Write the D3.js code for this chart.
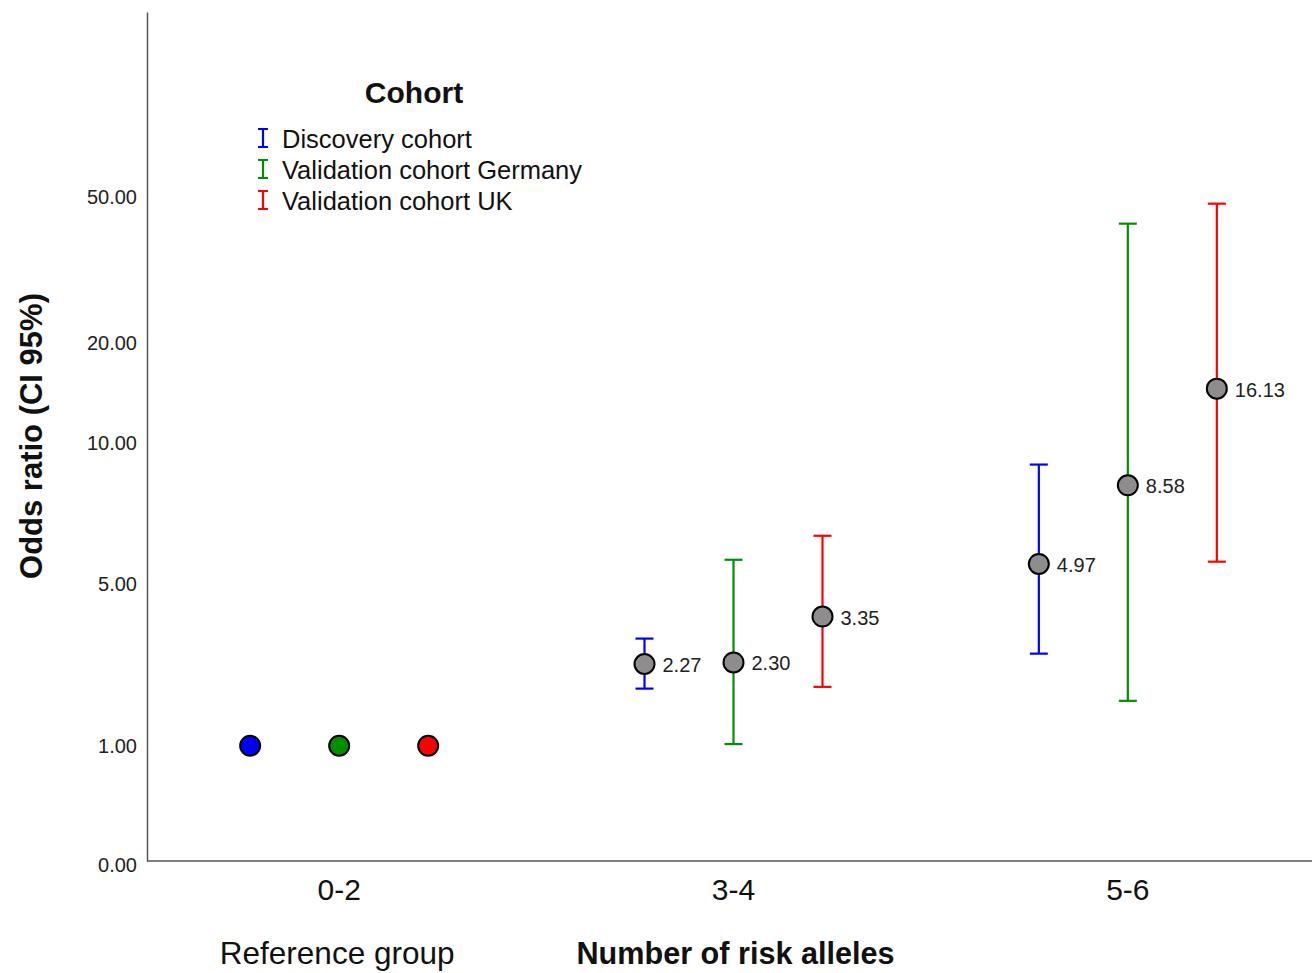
<!DOCTYPE html>
<html>
<head>
<meta charset="utf-8">
<script src="https://cdn.jsdelivr.net/npm/d3@7/dist/d3.min.js"></script>
<style>
  body { margin: 0; background: #fff; }
  text { font-family: "Liberation Sans", Arial, sans-serif; }
</style>
</head>
<body>
<div id="viz"></div>
<script>
// risk allele groups and cohorts
var groups = ["0-2", "3-4", "5-6"];
var cohorts = ["Discovery cohort", "Validation cohort Germany", "Validation cohort UK"];
var cohortColors = ["#0000ff", "#008f00", "#ff0000"];

// odds ratios per cohort (one value per group)
var orDiscovery = [1.00, 2.27, 4.97];
var orGermany   = [1.00, 2.30, 8.58];
var orUK        = [1.00, 3.35, 16.13];

// 95% CI bounds (reference group has none)
var lowDiscovery  = [null, 1.82, 2.48];
var highDiscovery = [null, 2.81, 9.85];
var lowGermany    = [null, 1.02, 1.62];
var highGermany   = [null, 5.12, 45.2];
var lowUK         = [null, 1.85, 5.05];
var highUK        = [null, 6.07, 51.1];

// y tick labels and where they sit on the axis (as printed in the source figure)
var yTickLabels = ["0.00", "1.00", "5.00", "10.00", "20.00", "50.00"];
var yTickPos    = [0, 1, 4.3, 11.4, 21.6, 53.3];

var width = 1312, height = 973;
var plot = {left: 147, right: 1312, top: 12, bottom: 861};

var orAll = [orDiscovery, orGermany, orUK],
    lowAll = [lowDiscovery, lowGermany, lowUK],
    highAll = [highDiscovery, highGermany, highUK];

var rows = [];
cohorts.forEach(function(c, ci) {
    groups.forEach(function(g, gi) {
        rows.push({cohort: c, color: cohortColors[ci], group: g,
                   or: orAll[ci][gi], lo: lowAll[ci][gi], hi: highAll[ci][gi]});
    });
});

var x = d3.scaleBand()
    .domain(groups)
    .range([142, 1325])
    .padding(0);

var dodge = d3.scalePoint()
    .domain(cohorts)
    .range([-89, 89]);

var y = d3.scaleSymlog()
    .constant(1)
    .domain([0, 164])
    .range([plot.bottom, plot.top]);

function cx(d) { return x(d.group) + x.bandwidth() / 2 + dodge(d.cohort); }

var svg = d3.select("#viz").append("svg")
    .attr("width", width)
    .attr("height", height);

// y axis
var yAxis = d3.axisLeft(y)
    .tickValues(yTickPos)
    .tickFormat(function(d, i) { return yTickLabels[i]; })
    .tickSize(0)
    .tickPadding(10);

var gy = svg.append("g")
    .attr("transform", "translate(" + plot.left + ",0)")
    .call(yAxis);
gy.select(".domain").attr("stroke", "#555").attr("stroke-width", 1.5);
gy.selectAll("text")
    .attr("font-size", 20)
    .attr("fill", "#222")
    .attr("dy", function(d) { return d === 0 ? "0.5em" : "0.35em"; })
    .attr("font-family", "Liberation Sans, Arial, sans-serif");

// x axis
svg.append("line")
    .attr("x1", plot.left).attr("x2", plot.right)
    .attr("y1", plot.bottom).attr("y2", plot.bottom)
    .attr("stroke", "#555")
    .attr("stroke-width", 1.5);

var gx = svg.append("g")
    .attr("transform", "translate(0," + plot.bottom + ")")
    .call(d3.axisBottom(x).tickSize(0).tickPadding(18));
gx.select(".domain").remove();
gx.selectAll("text")
    .attr("font-size", 30)
    .attr("fill", "#111")
    .attr("font-family", "Liberation Sans, Arial, sans-serif");

// axis titles
svg.append("text")
    .attr("transform", "translate(31,436) rotate(-90)")
    .attr("text-anchor", "middle")
    .attr("dominant-baseline", "central")
    .attr("font-size", 31)
    .attr("font-weight", "bold")
    .attr("fill", "#111")
    .text("Odds ratio (CI 95%)");

svg.append("text")
    .attr("x", x("3-4") + x.bandwidth() / 2 + 2)
    .attr("y", 953)
    .attr("text-anchor", "middle")
    .attr("dominant-baseline", "central")
    .attr("font-size", 30.6)
    .attr("font-weight", "bold")
    .attr("fill", "#111")
    .text("Number of risk alleles");

svg.append("text")
    .attr("x", x("0-2") + x.bandwidth() / 2 - 2)
    .attr("y", 953)
    .attr("text-anchor", "middle")
    .attr("dominant-baseline", "central")
    .attr("font-size", 31.5)
    .attr("fill", "#111")
    .text("Reference group");

// error bars
var ci = rows.filter(function(d) { return d.lo != null; });
var bars = svg.append("g").selectAll("g")
    .data(ci)
    .enter().append("g")
    .attr("stroke", function(d) { return d.color; })
    .attr("stroke-width", 2.2);

bars.append("line")
    .attr("x1", cx).attr("x2", cx)
    .attr("y1", function(d) { return y(d.lo); })
    .attr("y2", function(d) { return y(d.hi); });
bars.append("line")
    .attr("x1", function(d) { return cx(d) - 9; })
    .attr("x2", function(d) { return cx(d) + 9; })
    .attr("y1", function(d) { return y(d.lo); })
    .attr("y2", function(d) { return y(d.lo); });
bars.append("line")
    .attr("x1", function(d) { return cx(d) - 9; })
    .attr("x2", function(d) { return cx(d) + 9; })
    .attr("y1", function(d) { return y(d.hi); })
    .attr("y2", function(d) { return y(d.hi); });

// points
svg.append("g").selectAll("circle")
    .data(rows)
    .enter().append("circle")
    .attr("cx", cx)
    .attr("cy", function(d) { return y(d.or); })
    .attr("r", 10)
    .attr("fill", function(d) { return d.lo == null ? d.color : "#8e8c8c"; })
    .attr("stroke", "#000")
    .attr("stroke-width", 2);

// value labels
svg.append("g").selectAll("text")
    .data(ci)
    .enter().append("text")
    .attr("x", function(d) { return cx(d) + 18; })
    .attr("y", function(d) { return y(d.or) + 1; })
    .attr("dominant-baseline", "central")
    .attr("font-size", 20)
    .attr("fill", "#222")
    .text(function(d) { return d3.format(".2f")(d.or); });

// legend
var legend = svg.append("g");
legend.append("text")
    .attr("x", 414)
    .attr("y", 92)
    .attr("text-anchor", "middle")
    .attr("dominant-baseline", "central")
    .attr("font-size", 30)
    .attr("font-weight", "bold")
    .attr("fill", "#111")
    .text("Cohort");

var item = legend.selectAll("g.item")
    .data(cohorts)
    .enter().append("g")
    .attr("class", "item")
    .attr("transform", function(d, i) { return "translate(263," + (138 + i * 31) + ")"; });

item.append("path")
    .attr("d", "M-5,-9H5M0,-9V9M-5,9H5")
    .attr("fill", "none")
    .attr("stroke", function(d, i) { return cohortColors[i]; })
    .attr("stroke-width", 2.2);

item.append("text")
    .attr("x", 19)
    .attr("y", 1)
    .attr("dominant-baseline", "central")
    .attr("font-size", 25.5)
    .attr("fill", "#111")
    .text(function(d) { return d; });
</script>
</body>
</html>
